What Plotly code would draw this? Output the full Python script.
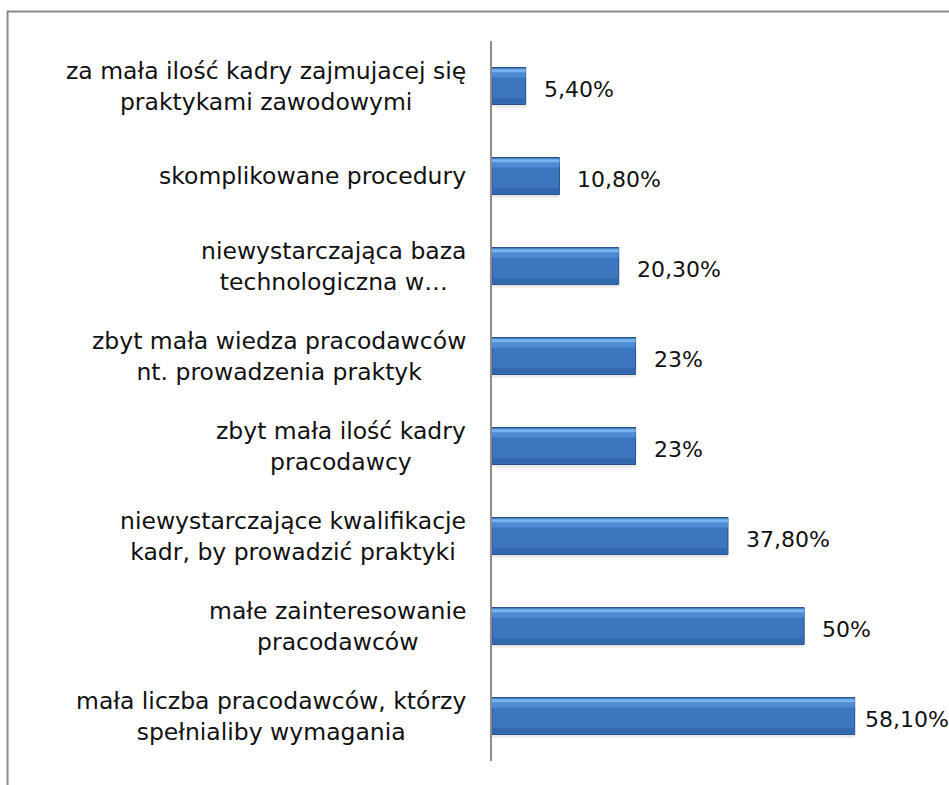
import plotly.graph_objects as go

# Categories (top to bottom) and their shares in percent
categories = [
    "za mała ilość kadry zajmujacej się<br>praktykami zawodowymi",
    "skomplikowane procedury",
    "niewystarczająca baza<br>technologiczna w…",
    "zbyt mała wiedza pracodawców<br>nt. prowadzenia praktyk",
    "zbyt mała ilość kadry<br>pracodawcy",
    "niewystarczające kwalifikacje<br>kadr, by prowadzić praktyki",
    "małe zainteresowanie<br>pracodawców",
    "mała liczba pracodawców, którzy<br>spełnialiby wymagania",
]
values = [5.40, 10.80, 20.30, 23, 23, 37.80, 50, 58.10]
value_labels = ["5,40%", "10,80%", "20,30%", "23%", "23%", "37,80%", "50%", "58,10%"]

FONT = "DejaVu Sans"
X_MAX = 70
BAR_W = 0.41

fig = go.Figure()

# soft drop shadow under each bar
fig.add_trace(go.Bar(
    y=categories, x=values, orientation="h",
    width=BAR_W, offset=-BAR_W / 2 + 0.035,
    marker=dict(color="rgba(0,0,0,0.09)", line=dict(width=0)),
    hoverinfo="skip", showlegend=False,
))
# main bar body
fig.add_trace(go.Bar(
    y=categories, x=values, orientation="h",
    width=BAR_W, offset=-BAR_W / 2,
    marker=dict(color="#3B76BE", line=dict(color="#244F86", width=1)),
    showlegend=False,
))
# bevel: light upper band
fig.add_trace(go.Bar(
    y=categories, x=values, orientation="h",
    width=0.10, offset=-BAR_W / 2 + 0.01,
    marker=dict(color="#4F8BD2", line=dict(width=0)),
    hoverinfo="skip", showlegend=False,
))
# bevel: bright top edge
fig.add_trace(go.Bar(
    y=categories, x=values, orientation="h",
    width=0.035, offset=-BAR_W / 2 + 0.018,
    marker=dict(color="#78B4EE", line=dict(width=0)),
    hoverinfo="skip", showlegend=False,
))
# bevel: dark lower band
fig.add_trace(go.Bar(
    y=categories, x=values, orientation="h",
    width=0.06, offset=BAR_W / 2 - 0.07,
    marker=dict(color="#3068AB", line=dict(width=0)),
    hoverinfo="skip", showlegend=False,
))

annotations = []
# category labels, centred line by line, right-aligned to the axis
for cat in categories:
    annotations.append(dict(
        x=0, y=cat, xref="x", yref="y",
        text=cat, showarrow=False,
        xanchor="right", yanchor="middle", align="center",
        xshift=-24,
        font=dict(family=FONT, size=23.5, color="#111111"),
    ))
# value labels beyond the bar ends
for cat, v, lab in zip(categories, values, value_labels):
    shift = 16 if v < max(values) else 8
    annotations.append(dict(
        x=v, y=cat, xref="x", yref="y",
        text=lab, showarrow=False,
        xanchor="left", yanchor="middle",
        xshift=shift, yshift=-3,
        font=dict(family=FONT, size=22, color="#111111"),
    ))

# chart frame (extends past the right and bottom page edges)
L, R, T, B = 492, 19.5, 41, 24
pw, ph = 949 - L - R, 785 - T - B
def px_to_paper_x(px):
    return (px - L) / pw
def px_to_paper_y(py):
    return (785 - B - py) / ph

fig.add_shape(
    type="rect", xref="paper", yref="paper",
    x0=px_to_paper_x(7), x1=px_to_paper_x(1000),
    y0=px_to_paper_y(840), y1=px_to_paper_y(11.5),
    line=dict(color="#8A8A8A", width=2), fillcolor="rgba(0,0,0,0)",
    layer="below",
)

fig.update_layout(
    width=949, height=785,
    margin=dict(l=L, r=R, t=T, b=B),
    paper_bgcolor="white", plot_bgcolor="white",
    barmode="overlay",
    annotations=annotations,
    showlegend=False,
    xaxis=dict(range=[0, X_MAX], visible=False, fixedrange=True),
    yaxis=dict(
        autorange="reversed", showticklabels=False, ticks="",
        showgrid=False, zeroline=False,
        showline=True, linecolor="#8C8C8C", linewidth=2,
    ),
)

fig.write_html("out.html")
